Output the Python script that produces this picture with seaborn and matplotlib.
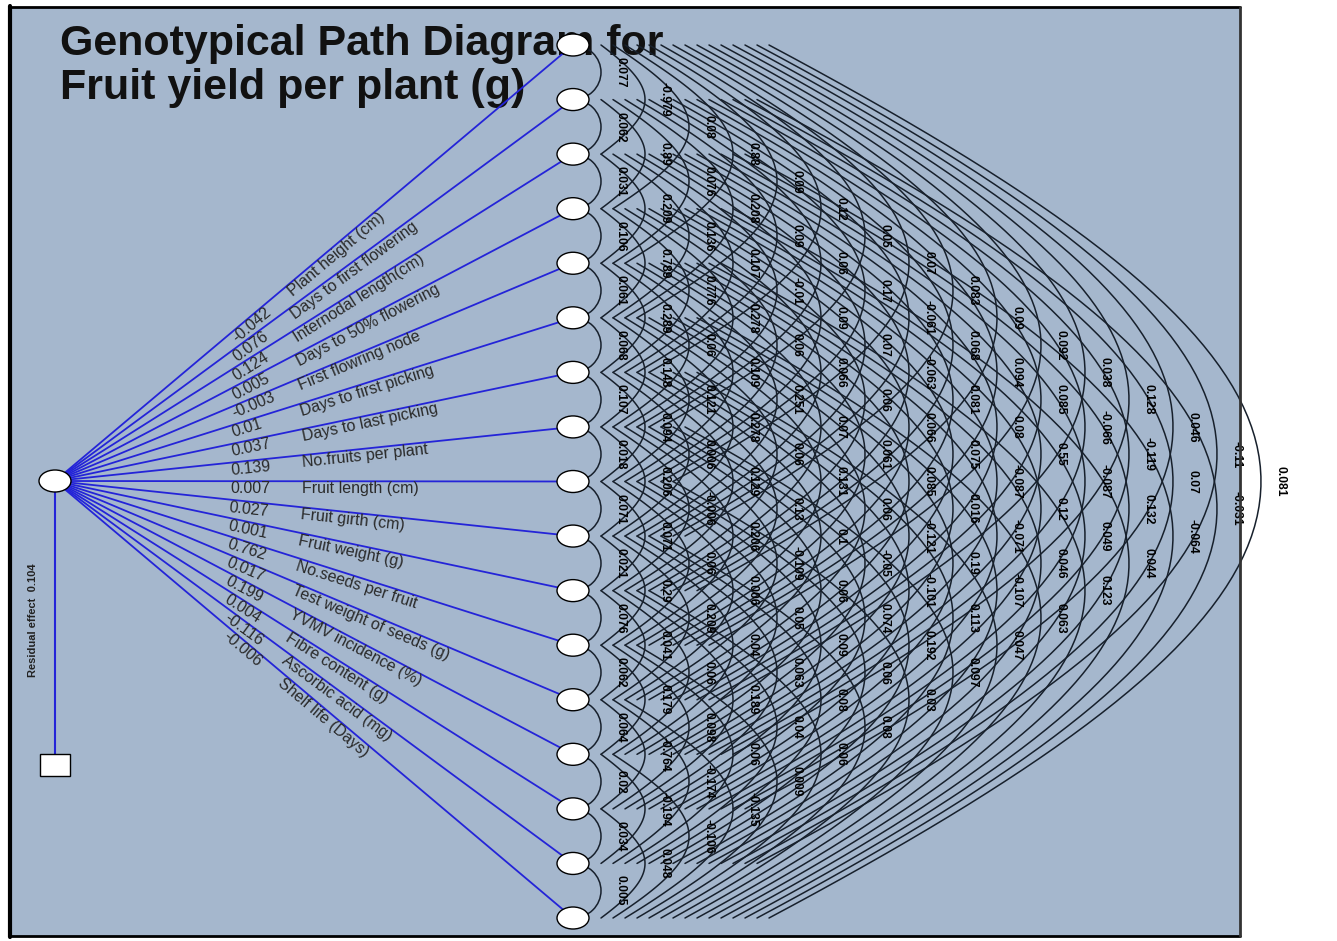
import numpy as np
import pandas as pd
import seaborn as sns
import matplotlib.pyplot as plt
from matplotlib.patches import Arc, Ellipse, Rectangle

title_lines = ["Genotypical Path Diagram for", "Fruit yield per plant (g)"]

traits = ["Plant height (cm)", "Days to first flowering", "Internodal length(cm)",
          "Days to 50% flowering", "First flowring node", "Days to first picking",
          "Days to last picking", "No.fruits per plant", "Fruit length (cm)",
          "Fruit girth (cm)", "Fruit weight (g)", "No.seeds per fruit",
          "Test weight of seeds (g)", "YVMV incidence (%)", "Fibre content (g)",
          "Ascorbic acid (mg)", "Shelf life (Days)"]
path_coef = [-0.042, 0.076, 0.124, 0.005, -0.003, 0.01, 0.037, 0.139, 0.007,
             0.027, 0.001, 0.762, 0.017, 0.199, 0.004, -0.116, -0.006]
residual = 0.104

# genotypic correlations between traits, grouped by distance between the traits
gap1 = [0.077, 0.062, 0.031, 0.106, 0.061, 0.068, 0.107, 0.018, 0.071, 0.021,
        0.076, 0.062, 0.064, 0.02, 0.034, 0.005]
gap2 = [-0.979, 0.89, 0.209, 0.789, 0.289, 0.148, 0.094, 0.206, 0.071, 0.29,
        0.041, 0.179, -0.764, -0.194, 0.048]
gap3 = [0.08, 0.076, 0.136, 0.776, 0.06, 0.121, 0.006, -0.006, 0.06, 0.209,
        0.06, 0.098, -0.174, -0.106]
gap4 = [0.88, 0.208, 0.107, 0.278, 0.109, 0.278, 0.129, 0.206, 0.006, 0.04,
        0.189, 0.06, -0.135]
gap5 = [0.09, 0.09, -0.01, 0.06, 0.251, 0.06, 0.13, -0.109, 0.05, 0.063, 0.04, 0.009]
gap6 = [0.12, 0.06, 0.09, 0.066, 0.07, 0.131, 0.1, 0.06, 0.09, 0.08, 0.06]
gap7 = [0.05, 0.17, 0.07, 0.06, 0.061, 0.06, -0.05, 0.074, 0.06, 0.08]
gap8 = [0.07, -0.061, -0.063, 0.066, 0.085, -0.121, -0.101, 0.192, 0.03]
gap9 = [0.083, 0.068, 0.081, 0.075, 0.016, 0.19, 0.113, 0.097]
gap10 = [0.09, 0.094, 0.08, -0.087, -0.071, -0.107, 0.047]
gap11 = [0.092, 0.085, 0.55, 0.12, 0.046, 0.063]
gap12 = [0.038, -0.066, -0.087, 0.049, 0.123]
gap13 = [0.128, -0.119, 0.132, 0.044]
gap14 = [0.046, 0.07, -0.064]
gap15 = [-0.11, -0.031]
gap16 = [0.081]
gaps = [gap1, gap2, gap3, gap4, gap5, gap6, gap7, gap8, gap9, gap10,
        gap11, gap12, gap13, gap14, gap15, gap16]

sns.set_theme(style="white")
plt.rcParams['font.family'] = ['Liberation Sans', 'DejaVu Sans']

fig = plt.figure(figsize=(13.37, 9.41), dpi=100)
ax = fig.add_axes([0, 0, 1, 1])

bg = '#a5b7cd'
blue = '#2424d8'
arc_col = '#17202c'
ax.add_patch(Rectangle((12, 8), 1228, 928, facecolor=bg, edgecolor='none', zorder=0))

# node layout
n = len(traits)
xn = 573
yn = 45 + (918 - 45) / (n - 1) * np.arange(n)
x0, y0 = 55, 481

# title sits under the lines and nodes
for line, yb in zip(title_lines, [55, 99]):
    ax.text(60, yb, line, fontsize=31, fontweight='bold', ha='left', va='baseline',
            color='#111111', zorder=0.5)

# path lines (blue)
rows = []
for i, t in enumerate(traits):
    rows.append({'x': x0, 'y': y0, 'trait': t})
    rows.append({'x': xn, 'y': yn[i], 'trait': t})
df = pd.DataFrame(rows)
sns.lineplot(data=df, x='x', y='y', units='trait', estimator=None, sort=False,
             color=blue, lw=1.3, ax=ax, zorder=2)

# residual
ax.plot([x0, x0], [y0, 765], color=blue, lw=1.5, zorder=2)
ax.add_patch(Rectangle((x0 - 15, 754), 30, 22, facecolor='white', edgecolor='black', lw=1, zorder=5))
ax.text(33, 620, "Residual effect  " + str(residual), rotation=90, ha='center', va='center',
        fontsize=8, fontweight='bold', color='#222222')

# correlation arcs
tt = np.linspace(0, 1, 80)[:, None]
for k, vals in enumerate(gaps, start=1):
    for i, v in enumerate(vals):
        j = i + k
        h = (yn[j] - yn[i]) / 2
        mid = (yn[i] + yn[j]) / 2
        apex = 557 + 44 * k
        if k == 1:
            ax.add_patch(Arc((xn, mid), 2 * (apex - xn), 2 * h, theta1=-90, theta2=90,
                             color=arc_col, lw=1.1, zorder=1))
        else:
            s = 28 + 12 * (k - 2)
            xs = xn + s
            c = (apex - xs) / 0.75
            m = min(0.75, 0.8 * h / c)
            P = np.array([[xs, yn[i]], [xs + c, yn[i] + c * m],
                          [xs + c, yn[j] - c * m], [xs, yn[j]]])
            B = ((1 - tt) ** 3) * P[0] + 3 * ((1 - tt) ** 2) * tt * P[1] \
                + 3 * (1 - tt) * tt ** 2 * P[2] + tt ** 3 * P[3]
            ax.plot(B[:, 0], B[:, 1], color=arc_col, lw=1.1, zorder=1)
        ax.text(576 + 44 * k, mid, str(v), rotation=-90, ha='center', va='center',
                fontsize=8.7, fontweight='bold', color='black', zorder=3)

# path labels
for i, t in enumerate(traits):
    dx, dy = xn - x0, yn[i] - y0
    L = np.hypot(dx, dy)
    ang = np.degrees(np.arctan2(-dy, dx))
    ax_ = 230
    ay_ = y0 + dy * (ax_ - x0) / dx
    ax.text(ax_, ay_, str(path_coef[i]), rotation=ang, rotation_mode='anchor',
            ha='left', va='top', fontsize=11.5, color='#2a2a2a', zorder=3)
    bx = ax_ + 72 * dx / L
    by = ay_ + 72 * dy / L
    ax.text(bx, by, t, rotation=ang, rotation_mode='anchor',
            ha='left', va='top', fontsize=11.5, color='#2a2a2a', zorder=3)

# nodes
for y in yn:
    ax.add_patch(Ellipse((xn, y), 32, 22, facecolor='white', edgecolor='black', lw=1, zorder=5))
ax.add_patch(Ellipse((x0, y0), 32, 22, facecolor='white', edgecolor='black', lw=1, zorder=5))

# frame
ax.plot([10, 10], [6, 937], color='black', lw=3, zorder=7)
ax.plot([10, 1240], [7, 7], color='black', lw=2, zorder=7)
ax.plot([10, 1240], [936, 936], color='black', lw=2, zorder=7)
ax.plot([1240, 1240], [7, 936], color='#333333', lw=2, zorder=7)

ax.set_xlim(0, 1337)
ax.set_ylim(941, 0)
ax.axis('off')
plt.savefig('out.png', dpi=100)
